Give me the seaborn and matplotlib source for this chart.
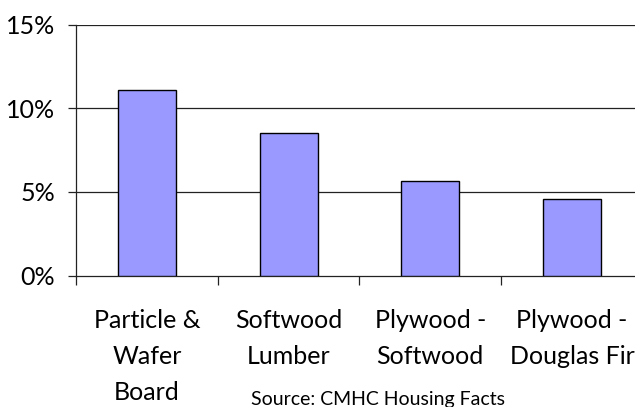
import matplotlib
matplotlib.use("Agg")
import matplotlib.pyplot as plt
import seaborn as sns
import pandas as pd
from matplotlib.ticker import FuncFormatter

categories = ["Particle &\nWafer\nBoard", "Softwood\nLumber", "Plywood -\nSoftwood", "Plywood -\nDouglas Fir"]
values = [11.1, 8.5, 5.65, 4.6]
yticks = [0, 5, 10, 15]
source_text = "Source: CMHC Housing Facts"

sns.set_theme(style="white")
plt.rcParams['font.family'] = ['Lato', 'DejaVu Sans']

df = pd.DataFrame({"cat": categories, "val": values})

fig = plt.figure(figsize=(6.35, 4.07), dpi=100)
ax = fig.add_axes([76/635, (407-275.5)/407, 4*141.7/635, (275.5-24.5)/407])

sns.barplot(data=df, x="cat", y="val", color="#9999FF", saturation=1,
            edgecolor="black", linewidth=1.0, width=0.41, ax=ax, zorder=3)

ax.set_xlim(-0.5, 3.5)
ax.set_ylim(0, 15)
ax.set_yticks(yticks)
ax.yaxis.set_major_formatter(FuncFormatter(lambda v, p: f"{v:.0f}%"))
for y in yticks[1:]:
    ax.axhline(y, color="#222222", lw=0.9, zorder=1)

ax.set_xticks([-0.5, 0.5, 1.5, 2.5, 3.5])
ax.set_xticklabels([])
ax.set_xticks(range(len(categories)), categories, minor=True)
ax.tick_params(axis="x", which="major", direction="out", length=6.5, width=0.9, color="#222222", bottom=True)
ax.tick_params(axis="x", which="minor", length=0, pad=24, labelsize=18)
ax.tick_params(axis="y", direction="out", length=6, width=0.9, color="#222222", left=True, pad=9, labelsize=18)
for lbl in ax.get_xticklabels(minor=True):
    lbl.set_linespacing(1.7)
    lbl.set_color("black")
for lbl in ax.get_yticklabels():
    lbl.set_color("black")

ax.set_xlabel("")
ax.set_ylabel("")
for s in ["top", "right"]:
    ax.spines[s].set_visible(False)
for s in ["left", "bottom"]:
    ax.spines[s].set_color("#222222")
    ax.spines[s].set_linewidth(0.9)

fig.text(378/635, 1-400/407, source_text, ha="center", va="center", fontsize=14, color="black")

fig.savefig("out.png", dpi=100)
